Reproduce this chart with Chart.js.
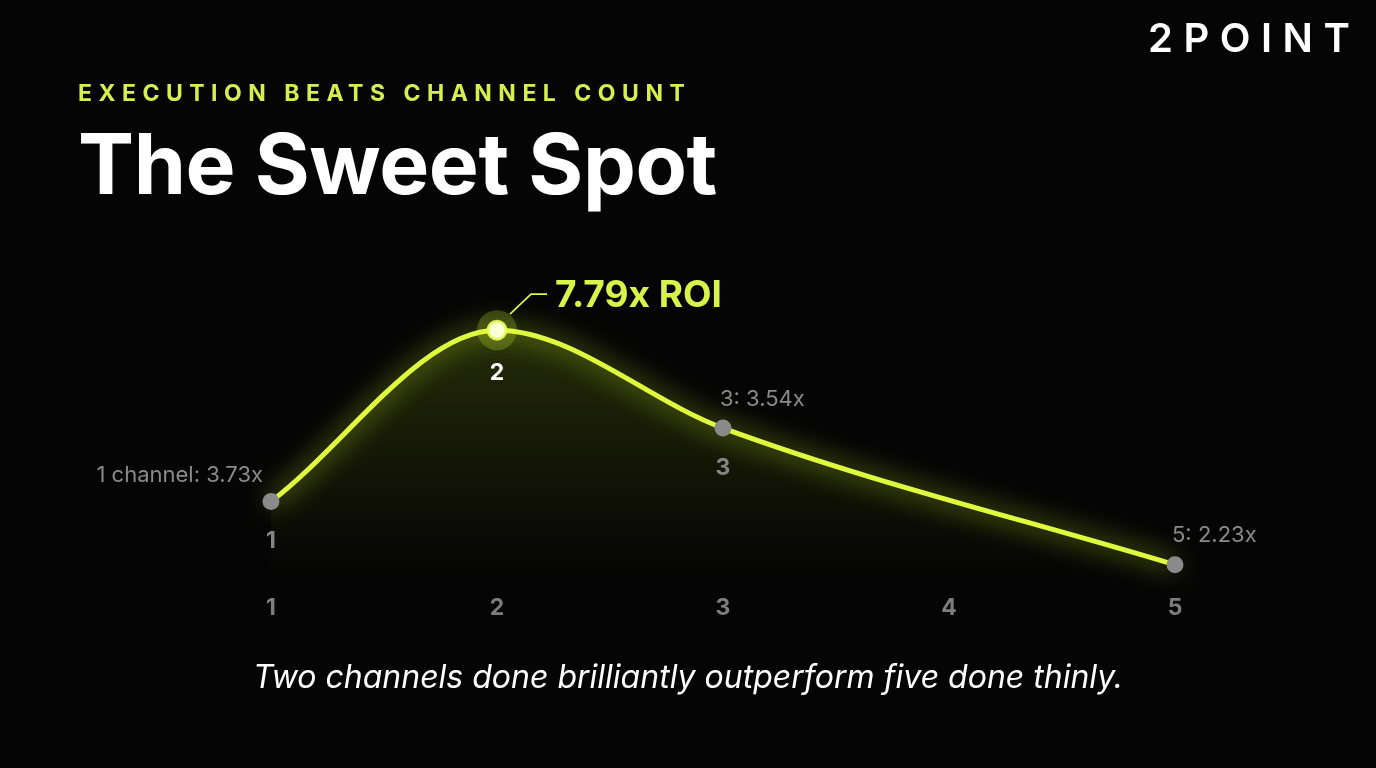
<!DOCTYPE html>
<html>
<head>
<meta charset="utf-8">
<script src="https://cdn.jsdelivr.net/npm/chart.js@4.4.1/dist/chart.umd.min.js"></script>
<style>
  html, body { margin:0; padding:0; background:#050505; width:1376px; height:768px; overflow:hidden; }
  #wrap { position:absolute; left:0; top:0; width:1376px; height:768px; }
  .txt { position:absolute; white-space:nowrap; font-family:Inter, "Noto Sans", sans-serif; line-height:1; }
  #logo { left:1148px; top:18px; font-size:40px; font-weight:600; color:#fff; letter-spacing:10.5px; }
  #kicker { left:78px; top:82px; font-size:23px; font-weight:700; color:#d6ef50; letter-spacing:6.5px; }
  #title { left:78px; top:122px; font-size:84px; font-weight:700; color:#fff; letter-spacing:-0.4px; }
  #footer { left:0; width:1376px; text-align:center; top:661px; font-size:32px; font-style:italic; color:#fff; }
</style>
</head>
<body>
<div id="wrap"><canvas id="c"></canvas></div>
<div class="txt" id="logo">2POINT</div>
<div class="txt" id="kicker">EXECUTION BEATS CHANNEL COUNT</div>
<div class="txt" id="title">The Sweet Spot</div>
<div class="txt" id="footer">Two channels done brilliantly outperform five done thinly.</div>
<script>
// ---- data ----
const categories = ['1', '2', '3', '4', '5'];            // number of channels
const roiValues = [3.73, 7.79, 3.54, null, 2.23];         // ROI as labelled
const curveLevels = [3.73, 7.79, 5.47, null, 2.23];       // curve height as drawn in the picture
const firstLabelPrefix = '1 channel';
const peakSuffix = 'x ROI';

const LIME = '#e0fb3e';
const peakIdx = roiValues.indexOf(Math.max(...roiValues.filter(v => v !== null)));

const glowPlugin = {
  id: 'glow',
  beforeDatasetDraw(chart, args) {
    const ds = chart.data.datasets[args.index];
    if (ds.glow) {
      const ctx = chart.ctx;
      ctx.save();
      ctx.shadowColor = 'rgba(215,255,40,0.9)';
      ctx.shadowBlur = 26;
    }
  },
  afterDatasetDraw(chart, args) {
    const ds = chart.data.datasets[args.index];
    if (ds.glow) chart.ctx.restore();
  }
};

const labelPlugin = {
  id: 'labels',
  afterDatasetsDraw(chart) {
    const ctx = chart.ctx;
    const pts = chart.getDatasetMeta(1).data;
    const area = chart.chartArea;
    ctx.save();
    roiValues.forEach((v, i) => {
      if (v === null) return;
      const p = pts[i];
      // number under point (skipped where it would sit on the axis tick)
      const under = p.y + (i === peakIdx ? 43 : 40);
      if (under < area.bottom) {
        ctx.font = '700 23px Inter, sans-serif';
        ctx.textAlign = 'center';
        ctx.textBaseline = 'middle';
        ctx.fillStyle = i === peakIdx ? '#ffffff' : '#858585';
        ctx.fillText(categories[i], p.x, under);
      }
      ctx.textBaseline = 'middle';
      if (i === peakIdx) {
        ctx.strokeStyle = LIME;
        ctx.lineWidth = 1.6;
        ctx.beginPath();
        ctx.moveTo(p.x + 13, p.y - 16);
        ctx.lineTo(p.x + 34, p.y - 36);
        ctx.lineTo(p.x + 50, p.y - 36);
        ctx.stroke();
        ctx.font = '700 37px Inter, sans-serif';
        ctx.textAlign = 'left';
        ctx.fillStyle = '#d8f44a';
        ctx.fillText(v.toFixed(2) + peakSuffix, p.x + 58, p.y - 34);
      } else {
        ctx.font = '400 22px Inter, sans-serif';
        ctx.fillStyle = '#8a8a8a';
        if (i === 0) {
          ctx.textAlign = 'right';
          ctx.fillText(firstLabelPrefix + ': ' + v.toFixed(2) + 'x', p.x - 8, p.y - 26);
        } else {
          ctx.textAlign = 'left';
          ctx.fillText(categories[i] + ': ' + v.toFixed(2) + 'x', p.x - 3, p.y - 29);
        }
      }
    });
    ctx.restore();
  }
};

function fillGradient(ctx) {
  const chart = ctx.chart;
  const a = chart.chartArea;
  if (!a) return 'rgba(0,0,0,0)';
  const g = chart.ctx.createLinearGradient(0, a.top, 0, a.bottom);
  g.addColorStop(0, 'rgba(200,240,30,0.26)');
  g.addColorStop(0.35, 'rgba(200,240,30,0.14)');
  g.addColorStop(1, 'rgba(200,240,30,0.0)');
  return g;
}

new Chart(document.getElementById('c'), {
  type: 'line',
  data: {
    labels: categories,
    datasets: [
      { // area
        data: curveLevels, fill: 'start', backgroundColor: fillGradient,
        borderWidth: 0, pointRadius: 0, cubicInterpolationMode: 'monotone',
        spanGaps: true, order: 3, clip: false
      },
      { // glowing line
        data: curveLevels, fill: false, borderColor: LIME, borderWidth: 5,
        pointRadius: 0, cubicInterpolationMode: 'monotone', spanGaps: true,
        glow: true, order: 2, clip: false, borderCapStyle: 'round'
      },
      { // peak halo
        data: curveLevels, showLine: false, order: 1, clip: false,
        pointRadius: curveLevels.map((v, i) => i === peakIdx ? 20 : 0),
        pointBackgroundColor: 'rgba(220,255,60,0.22)', pointBorderWidth: 0
      },
      { // markers
        data: curveLevels, showLine: false, order: 0, clip: false, glow: false,
        pointRadius: curveLevels.map((v, i) => i === peakIdx ? 9 : 8.5),
        pointBackgroundColor: curveLevels.map((v, i) => i === peakIdx ? '#fbffd8' : '#8a8a8a'),
        pointBorderColor: curveLevels.map((v, i) => i === peakIdx ? 'rgba(230,255,90,0.9)' : '#8a8a8a'),
        pointBorderWidth: curveLevels.map((v, i) => i === peakIdx ? 3 : 0)
      }
    ]
  },
  options: {
    responsive: true, maintainAspectRatio: false, animation: false,
    layout: { padding: { left: 271, right: 201, top: 250, bottom: 132 } },
    plugins: { legend: { display: false }, tooltip: { enabled: false } },
    scales: {
      x: {
        offset: false,
        grid: { display: false, drawTicks: false },
        border: { display: false },
        ticks: { color: '#7d7d7d', font: { family: 'Inter', size: 23, weight: '700' }, padding: 14 }
      },
      y: { display: false, min: 1.86, max: 9.69 }
    }
  },
  plugins: [glowPlugin, labelPlugin]
});
</script>
</body>
</html>
